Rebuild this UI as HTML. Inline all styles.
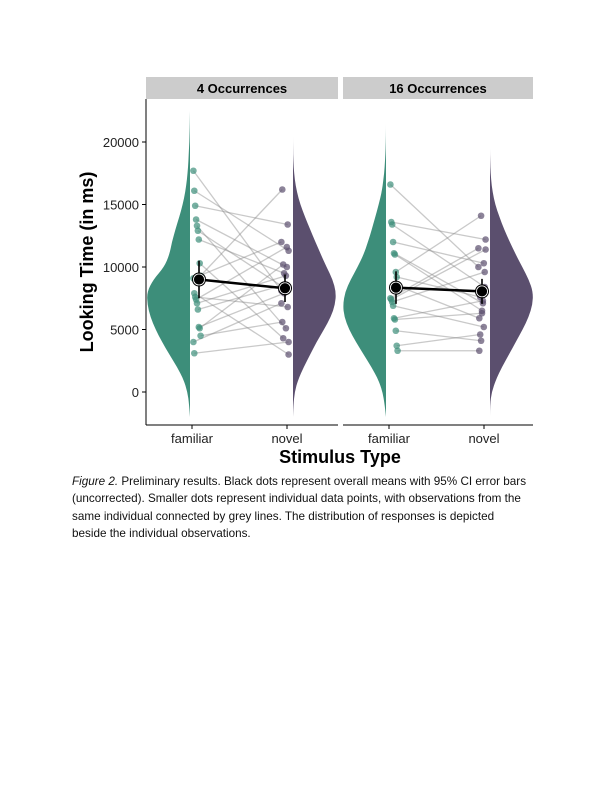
<!DOCTYPE html>
<html><head><meta charset="utf-8"><style>
body{margin:0;background:#fff;width:612px;height:792px;overflow:hidden;font-family:"Liberation Sans",sans-serif}
#cap{position:absolute;left:72px;top:473px;width:500px;white-space:nowrap;font-size:11.7px;line-height:17.3px;color:#111}
</style></head><body>
<svg id="chart" width="612" height="470" style="position:absolute;left:0;top:0" font-family="Liberation Sans, sans-serif"></svg>
<div id="cap"><i>Figure 2.</i> Preliminary results. Black dots represent overall means with 95% CI error bars<br>(uncorrected). Smaller dots represent individual data points, with observations from the<br>same individual connected by grey lines. The distribution of responses is depicted<br>beside the individual observations.</div>
<script>
const panels=["4 Occurrences","16 Occurrences"];
const categories=["familiar","novel"];
const yTicks=[0,5000,10000,15000,20000];
const fam1=[17700,16100,14900,13800,13300,12900,12200,10300,9300,9100,7900,7600,7400,7100,6600,5200,5100,4500,4000,3100];
const nov1=[8100,11300,13400,10000,5100,8300,9500,4300,16200,12000,3000,6800,11600,9300,8600,7900,10200,5600,7100,4000];
const fam2=[16600,13600,13400,12000,11100,11000,9600,9200,8500,7500,7400,7200,6900,5900,5800,4900,3700,3300];
const nov2=[10000,12200,8400,10300,7100,6500,14100,7600,5900,11500,11400,9600,5200,7300,6300,4100,4600,3300];
const means1=[9000,8300], ci1=[1500,1100];
const means2=[8350,8050], ci2=[1300,1000];
const densV=[-2000,-1000,0,1000,2000,3000,4000,5000,6000,7000,8000,9000,10000,11000,12000,13000,14000,15000,16000,17000,18000,19000,20000,21000,22000,23000];
const densFam1=[0,0.02,0.06,0.15,0.3,0.48,0.65,0.8,0.92,0.99,1.0,0.85,0.6,0.48,0.42,0.34,0.25,0.17,0.11,0.07,0.045,0.03,0.015,0.006,0.002,0];
const densNov1=[0,0.01,0.04,0.12,0.25,0.4,0.55,0.72,0.88,0.98,1.0,0.92,0.78,0.65,0.52,0.4,0.28,0.17,0.09,0.04,0.015,0.003,0,0,0,0];
const densFam2=[0,0.03,0.08,0.18,0.34,0.52,0.7,0.86,0.97,1.0,0.95,0.82,0.66,0.52,0.42,0.33,0.25,0.17,0.1,0.06,0.03,0.015,0.005,0,0,0];
const densNov2=[0,0,0.04,0.14,0.28,0.44,0.6,0.76,0.9,0.99,1.0,0.9,0.75,0.6,0.46,0.33,0.22,0.12,0.06,0.025,0.008,0,0,0,0,0];
const NS="http://www.w3.org/2000/svg",svg=document.getElementById('chart');
function el(t,a,p){const e=document.createElementNS(NS,t);for(const k in a)e.setAttribute(k,a[k]);(p||svg).appendChild(e);return e;}
const y=v=>392-v*0.0125;
const px=[{x0:146,x1:338,fv:190,fx:197,nx:285,nv:293},{x0:343,x1:533,fv:386,fx:394,nx:482,nv:490}];
let ax=el('line',{x1:146,y1:99,x2:146,y2:425,stroke:'#000','stroke-width':1});

yTicks.forEach(t=>{el('line',{x1:142,x2:146,y1:y(t),y2:y(t),stroke:'#000'});
 const tx=el('text',{x:139,y:y(t)+5,'text-anchor':'end','font-size':13,fill:'#222'});tx.textContent=t;
 });
let yt=el('text',{x:0,y:0,transform:'translate(93,262) rotate(-90)','text-anchor':'middle','font-size':18,'font-weight':'bold'});yt.textContent='Looking Time (in ms)';

let xt=el('text',{x:340,y:463,'text-anchor':'middle','font-size':18,'font-weight':'bold'});xt.textContent='Stimulus Type';

function violin(d,edge,dir,w,col){let pts=[];densV.forEach((v,i)=>pts.push([edge+dir*d[i]*w,y(v)]));
 let s='M'+pts[0][0].toFixed(1)+','+pts[0][1].toFixed(1);
 for(let i=1;i<pts.length-1;i++){const mx=(pts[i][0]+pts[i+1][0])/2,my=(pts[i][1]+pts[i+1][1])/2;s+=' Q'+pts[i][0].toFixed(1)+','+pts[i][1].toFixed(1)+' '+mx.toFixed(1)+','+my.toFixed(1);}
 s+=' L'+pts[pts.length-1][0]+','+pts[pts.length-1][1]+'Z';
 const p=el('path',{d:s,fill:col});}
const data=[[fam1,nov1,means1,ci1,densFam1,densNov1],[fam2,nov2,means2,ci2,densFam2,densNov2]];
data.forEach((D,pi)=>{const P=px[pi];
 const r=el('rect',{x:P.x0,y:77,width:P.x1-P.x0,height:22,fill:'#cccccc'});
 const st=el('text',{x:(P.x0+P.x1)/2,y:93,'text-anchor':'middle','font-size':13,'font-weight':'bold'});st.textContent=panels[pi];
 
 el('line',{x1:P.x0,x2:P.x1,y1:425,y2:425,stroke:'#000'});
 [P.fx-5,P.nx+2].forEach((cx,ci)=>{el('line',{x1:cx,x2:cx,y1:425,y2:429,stroke:'#000'});
  const t=el('text',{x:cx,y:443,'text-anchor':'middle','font-size':13,fill:'#222'});t.textContent=categories[ci];
  });
 violin(D[4],P.fv,-1,43,'#3d8e7a');violin(D[5],P.nv,1,43,'#5b4f6e');
 const n=D[0].length;
 const jf=i=>P.fx+((i*37)%9-4)*0.9, jn=i=>P.nx+((i*53)%9-4)*0.9;
 for(let i=0;i<n;i++){
  const l=el('line',{x1:jf(i),y1:y(D[0][i]),x2:jn(i),y2:y(D[1][i]),stroke:'#888','stroke-opacity':0.45,'stroke-width':1.3});
  }
 for(let i=0;i<n;i++){
  const a=el('circle',{cx:jf(i),cy:y(D[0][i]),r:3.3,fill:'#3d8e7a','fill-opacity':0.7});
  const b=el('circle',{cx:jn(i),cy:y(D[1][i]),r:3.3,fill:'#5b4f6e','fill-opacity':0.7});}
 const m=D[2],c=D[3];
 const mx=[P.fx+2,P.nx];
 const ml=el('line',{x1:mx[0],y1:y(m[0]),x2:mx[1],y2:y(m[1]),stroke:'#000','stroke-width':2.5});
 mx.forEach((cx,k)=>{
  const e=el('line',{x1:cx,x2:cx,y1:y(m[k]-c[k]),y2:y(m[k]+c[k]),stroke:'#000','stroke-width':1.6});
  const mc=el('circle',{cx:cx,cy:y(m[k]),r:5.5,fill:'#000',stroke:'#fff','stroke-width':0.8});
  el('circle',{cx:cx,cy:y(m[k]),r:6.5,fill:'none',stroke:'#000','stroke-width':1});});
});
</script>
</body></html>
